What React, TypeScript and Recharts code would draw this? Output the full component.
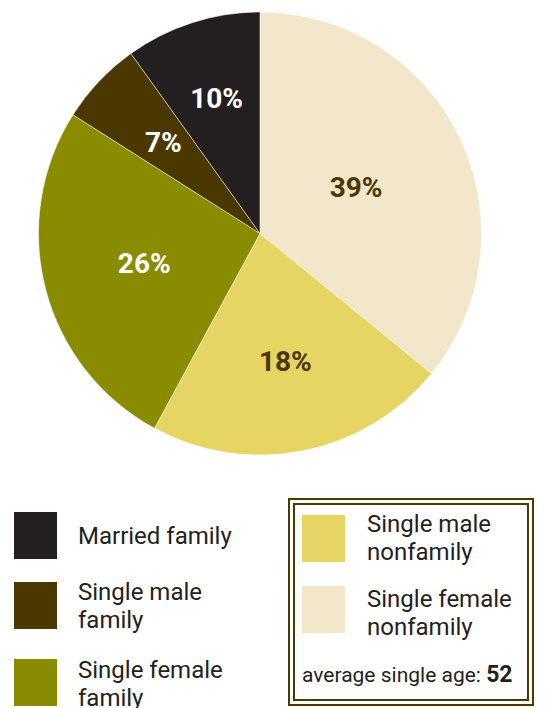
import React from 'react';
import { PieChart, Pie, Cell } from 'recharts';

// slices clockwise from 12 o'clock
const categories = ['Single female nonfamily', 'Single male nonfamily', 'Single female family', 'Single male family', 'Married family'];
// slice sizes as drawn in the picture
const shares = [35.9, 22.0, 26.1, 6.1, 9.9];
// percentages printed on the slices
const printedLabels = ['39%', '18%', '26%', '7%', '10%'];

const COLORS = ['#f2e6cb', '#e6d463', '#8a8c00', '#4a3800', '#231f20'];
const LABEL_COLORS = ['#4a3800', '#4a3800', '#ffffff', '#ffffff', '#ffffff'];
const LABEL_R = [0.48, 0.59, 0.54, 0.6, 0.64];

const data = categories.map((name, i) => ({ name, value: shares[i], label: printedLabels[i] }));

const RAD = Math.PI / 180;
const FONT = 'Roboto, "Noto Sans", sans-serif';
const TEXT = '#231f20';

const renderLabel = (props: any) => {
  const { cx, cy, midAngle, outerRadius, index } = props;
  const r = outerRadius * LABEL_R[index];
  const x = cx + r * Math.cos(-midAngle * RAD);
  const y = cy + r * Math.sin(-midAngle * RAD);
  return (
    <text x={x} y={y} fill={LABEL_COLORS[index]} textAnchor="middle" dominantBaseline="central"
      style={{ fontFamily: FONT, fontWeight: 700, fontSize: 28 }}>
      {data[index].label}
    </text>
  );
};

const Swatch = ({ left, top, color }: { left: number; top: number; color: string }) => (
  <div style={{ position: 'absolute', left, top, width: 43, height: 47, background: color }} />
);

const Label = ({ left, top, children }: { left: number; top: number; children: React.ReactNode }) => (
  <div style={{ position: 'absolute', left, top, fontFamily: FONT, fontSize: 24, lineHeight: '28px', color: TEXT, whiteSpace: 'nowrap' }}>
    {children}
  </div>
);

export default function App() {
  return (
    <div style={{ position: 'relative', width: 546, height: 708, overflow: 'hidden', background: '#fff' }}>
      <style>{'body{margin:0}'}</style>
      <div style={{ position: 'absolute', left: 0, top: 0 }}>
        <PieChart width={546} height={470} margin={{ top: 0, right: 0, bottom: 0, left: 0 }}>
          <Pie
            data={data}
            dataKey="value"
            cx={260}
            cy={233.5}
            outerRadius={221.5}
            startAngle={90}
            endAngle={-270}
            stroke="#ffffff"
            strokeWidth={0.5}
            label={renderLabel}
            labelLine={false}
            isAnimationActive={false}
          >
            {data.map((d, i) => (
              <Cell key={d.name} fill={COLORS[i]} />
            ))}
          </Pie>
        </PieChart>
      </div>

      {/* left legend */}
      <Swatch left={14} top={512} color={COLORS[4]} />
      <Label left={78} top={522}>Married family</Label>
      <Swatch left={14} top={582} color={COLORS[3]} />
      <Label left={78} top={578}>Single male<br />family</Label>
      <Swatch left={14} top={659} color={COLORS[2]} />
      <Label left={78} top={656}>Single female<br />family</Label>

      {/* boxed legend */}
      <div style={{ position: 'absolute', left: 288, top: 498, width: 246, height: 208, boxSizing: 'border-box', border: '7px double #4a3a00' }} />
      <Swatch left={302} top={515} color={COLORS[1]} />
      <Label left={367} top={510}>Single male<br />nonfamily</Label>
      <Swatch left={302} top={586} color={COLORS[0]} />
      <Label left={367} top={585}>Single female<br />nonfamily</Label>
      <div style={{ position: 'absolute', left: 302, top: 662, fontFamily: FONT, fontSize: 21, lineHeight: '26px', color: TEXT, whiteSpace: 'nowrap' }}>
        average single age: <span style={{ fontWeight: 700, fontSize: 23 }}>52</span>
      </div>
    </div>
  );
}
